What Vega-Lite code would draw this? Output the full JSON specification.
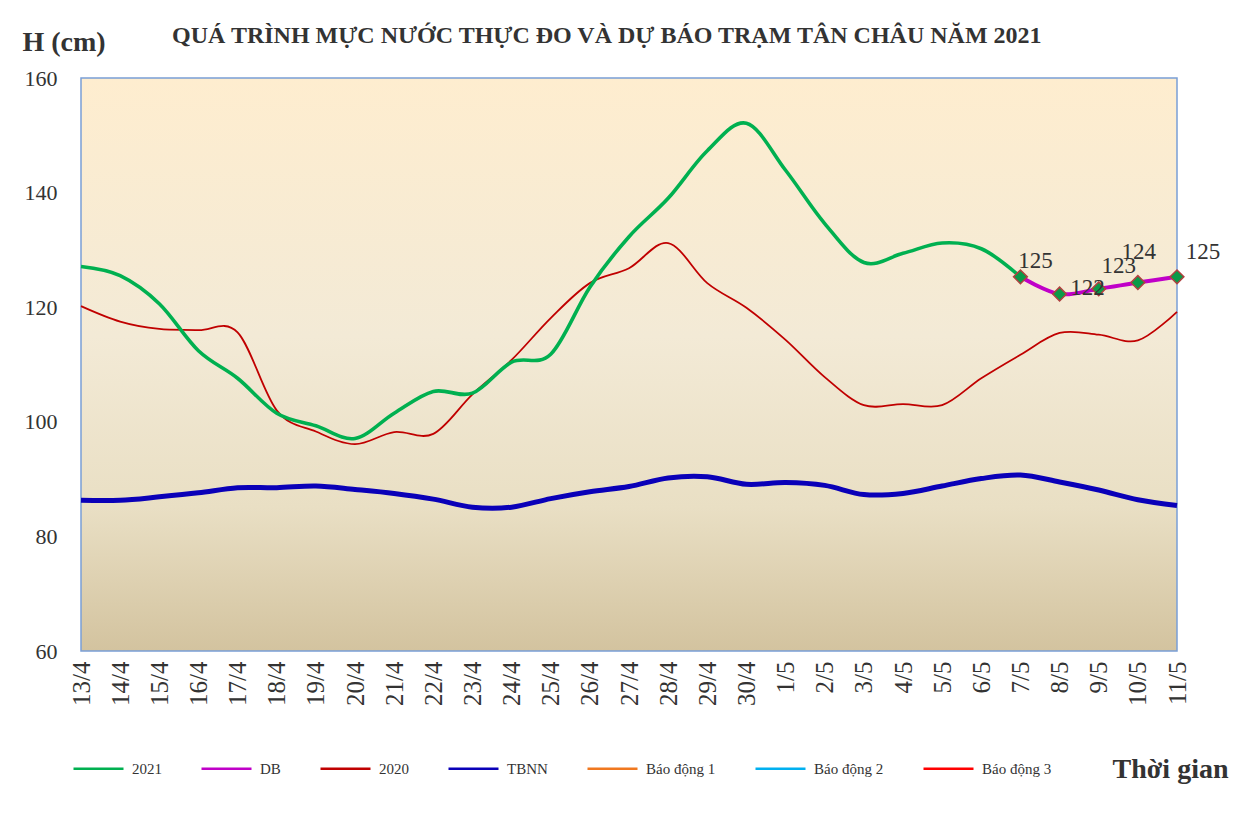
{
  "$schema": "https://vega.github.io/schema/vega-lite/v6.json",
  "width": 1096,
  "height": 573,
  "autosize": {"type": "none"},
  "padding": {"left": 81, "top": 78, "right": 76, "bottom": 170},
  "background": "#ffffff",
  "config": {
    "font": "Liberation Serif",
    "view": {
      "stroke": "#7a9fd6",
      "strokeWidth": 1.5,
      "fill": {"gradient": "linear", "x1": 0, "y1": 0, "x2": 0, "y2": 1,
        "stops": [
          {"offset": 0, "color": "#feedcf"},
          {"offset": 0.45, "color": "#f3ead6"},
          {"offset": 0.75, "color": "#e9dfc4"},
          {"offset": 1, "color": "#d3c39f"}
        ]}
    }
  },
  "title": {
    "text": "QUÁ TRÌNH MỰC NƯỚC THỰC ĐO VÀ DỰ BÁO TRẠM TÂN CHÂU NĂM 2021",
    "anchor": "start",
    "frame": "group",
    "dx": 91,
    "dy": 20,
    "offset": 0,
    "font": "Liberation Serif",
    "fontSize": 24,
    "fontWeight": "bold",
    "color": "#333333"
  },
  "data": {"values": [
    {"d": "13/4", "s": "2021", "v": 127.1}, {"d": "14/4", "s": "2021", "v": 125.5}, {"d": "15/4", "s": "2021", "v": 120.6},
    {"d": "16/4", "s": "2021", "v": 112.4}, {"d": "17/4", "s": "2021", "v": 107.6}, {"d": "18/4", "s": "2021", "v": 101.5},
    {"d": "19/4", "s": "2021", "v": 99.3}, {"d": "20/4", "s": "2021", "v": 97.1}, {"d": "21/4", "s": "2021", "v": 101.5},
    {"d": "22/4", "s": "2021", "v": 105.3}, {"d": "23/4", "s": "2021", "v": 105.0}, {"d": "24/4", "s": "2021", "v": 110.4},
    {"d": "25/4", "s": "2021", "v": 111.8}, {"d": "26/4", "s": "2021", "v": 123.5}, {"d": "27/4", "s": "2021", "v": 132.3},
    {"d": "28/4", "s": "2021", "v": 139.0}, {"d": "29/4", "s": "2021", "v": 147.3}, {"d": "30/4", "s": "2021", "v": 152.1},
    {"d": "1/5", "s": "2021", "v": 143.9}, {"d": "2/5", "s": "2021", "v": 134.6}, {"d": "3/5", "s": "2021", "v": 127.8},
    {"d": "4/5", "s": "2021", "v": 129.4}, {"d": "5/5", "s": "2021", "v": 131.2}, {"d": "6/5", "s": "2021", "v": 130.2},
    {"d": "7/5", "s": "2021", "v": 125.3},
    {"d": "7/5", "s": "DB", "v": 125.3}, {"d": "8/5", "s": "DB", "v": 122.3}, {"d": "9/5", "s": "DB", "v": 123.2},
    {"d": "10/5", "s": "DB", "v": 124.3}, {"d": "11/5", "s": "DB", "v": 125.3},
    {"d": "13/4", "s": "2020", "v": 120.2}, {"d": "14/4", "s": "2020", "v": 117.5}, {"d": "15/4", "s": "2020", "v": 116.2},
    {"d": "16/4", "s": "2020", "v": 116.0}, {"d": "17/4", "s": "2020", "v": 115.6}, {"d": "18/4", "s": "2020", "v": 102.0},
    {"d": "19/4", "s": "2020", "v": 98.3}, {"d": "20/4", "s": "2020", "v": 96.1}, {"d": "21/4", "s": "2020", "v": 98.2},
    {"d": "22/4", "s": "2020", "v": 97.9}, {"d": "23/4", "s": "2020", "v": 104.8}, {"d": "24/4", "s": "2020", "v": 110.8},
    {"d": "25/4", "s": "2020", "v": 118.1}, {"d": "26/4", "s": "2020", "v": 124.2}, {"d": "27/4", "s": "2020", "v": 126.8},
    {"d": "28/4", "s": "2020", "v": 131.2}, {"d": "29/4", "s": "2020", "v": 124.2}, {"d": "30/4", "s": "2020", "v": 119.9},
    {"d": "1/5", "s": "2020", "v": 114.3}, {"d": "2/5", "s": "2020", "v": 107.8}, {"d": "3/5", "s": "2020", "v": 102.9},
    {"d": "4/5", "s": "2020", "v": 103.1}, {"d": "5/5", "s": "2020", "v": 102.9}, {"d": "6/5", "s": "2020", "v": 107.6},
    {"d": "7/5", "s": "2020", "v": 111.7}, {"d": "8/5", "s": "2020", "v": 115.5}, {"d": "9/5", "s": "2020", "v": 115.2},
    {"d": "10/5", "s": "2020", "v": 114.2}, {"d": "11/5", "s": "2020", "v": 119.2},
    {"d": "13/4", "s": "TBNN", "v": 86.3}, {"d": "14/4", "s": "TBNN", "v": 86.3}, {"d": "15/4", "s": "TBNN", "v": 86.9},
    {"d": "16/4", "s": "TBNN", "v": 87.6}, {"d": "17/4", "s": "TBNN", "v": 88.5}, {"d": "18/4", "s": "TBNN", "v": 88.5},
    {"d": "19/4", "s": "TBNN", "v": 88.8}, {"d": "20/4", "s": "TBNN", "v": 88.2}, {"d": "21/4", "s": "TBNN", "v": 87.5},
    {"d": "22/4", "s": "TBNN", "v": 86.5}, {"d": "23/4", "s": "TBNN", "v": 85.1}, {"d": "24/4", "s": "TBNN", "v": 85.1},
    {"d": "25/4", "s": "TBNN", "v": 86.6}, {"d": "26/4", "s": "TBNN", "v": 87.8}, {"d": "27/4", "s": "TBNN", "v": 88.7},
    {"d": "28/4", "s": "TBNN", "v": 90.2}, {"d": "29/4", "s": "TBNN", "v": 90.4}, {"d": "30/4", "s": "TBNN", "v": 89.1},
    {"d": "1/5", "s": "TBNN", "v": 89.4}, {"d": "2/5", "s": "TBNN", "v": 88.9}, {"d": "3/5", "s": "TBNN", "v": 87.3},
    {"d": "4/5", "s": "TBNN", "v": 87.5}, {"d": "5/5", "s": "TBNN", "v": 88.8}, {"d": "6/5", "s": "TBNN", "v": 90.1},
    {"d": "7/5", "s": "TBNN", "v": 90.7}, {"d": "8/5", "s": "TBNN", "v": 89.5}, {"d": "9/5", "s": "TBNN", "v": 88.1},
    {"d": "10/5", "s": "TBNN", "v": 86.4}, {"d": "11/5", "s": "TBNN", "v": 85.4}
  ]},
  "encoding": {
    "x": {
      "field": "d", "type": "ordinal",
      "sort": ["13/4","14/4","15/4","16/4","17/4","18/4","19/4","20/4","21/4","22/4","23/4","24/4","25/4","26/4","27/4","28/4","29/4","30/4","1/5","2/5","3/5","4/5","5/5","6/5","7/5","8/5","9/5","10/5","11/5"],
      "scale": {"type": "point", "padding": 0},
      "axis": {
        "title": "Thời gian",
        "titleFont": "Liberation Serif", "titleFontSize": 28, "titleFontWeight": "bold", "titleColor": "#333333",
        "titleAngle": 0, "titleAlign": "right", "titleBaseline": "alphabetic", "titleX": 1147, "titleY": 126,
        "labelAngle": 270, "labelFont": "Liberation Serif", "labelFontSize": 25, "labelColor": "#333333",
        "labelPadding": 10, "ticks": false, "domain": false, "grid": false, "labelOverlap": false
      }
    },
    "y": {
      "field": "v", "type": "quantitative",
      "scale": {"domain": [60, 160], "nice": false, "zero": false},
      "axis": {
        "title": "H (cm)",
        "titleFont": "Liberation Serif", "titleFontSize": 28, "titleFontWeight": "bold", "titleColor": "#333333",
        "titleAngle": 0, "titleAlign": "left", "titleBaseline": "alphabetic", "titleX": -59, "titleY": -28,
        "values": [60, 80, 100, 120, 140, 160],
        "labelFont": "Liberation Serif", "labelFontSize": 22, "labelColor": "#333333",
        "labelPadding": 24, "ticks": false, "domain": false, "grid": false
      }
    },
    "color": {
      "field": "s", "type": "nominal",
      "scale": {
        "domain": ["2021", "DB", "2020", "TBNN", "Báo động 1", "Báo động 2", "Báo động 3"],
        "range": ["#00b050", "#c000c8", "#c00000", "#0a00b8", "#f07820", "#00b0f0", "#ff0000"]
      },
      "legend": {
        "title": null, "orient": "none", "legendX": -9, "legendY": 664,
        "direction": "horizontal", "columns": 7, "columnPadding": 34,
        "symbolType": "stroke", "symbolSize": 2500, "symbolStrokeWidth": 2.5,
        "labelFont": "Liberation Serif", "labelFontSize": 15, "labelColor": "#333333", "labelOffset": 7
      }
    }
  },
  "layer": [
    {
      "transform": [{"filter": "datum.s == 'TBNN'"}],
      "mark": {"type": "line", "interpolate": "cardinal", "strokeWidth": 5}
    },
    {
      "transform": [{"filter": "datum.s == '2020'"}],
      "mark": {"type": "line", "interpolate": "cardinal", "strokeWidth": 1.8}
    },
    {
      "transform": [{"filter": "datum.s == '2021'"}],
      "mark": {"type": "line", "interpolate": "cardinal", "strokeWidth": 3.6}
    },
    {
      "transform": [{"filter": "datum.s == 'DB'"}],
      "mark": {"type": "line", "interpolate": "cardinal", "strokeWidth": 4}
    },
    {
      "transform": [{"filter": "datum.s == 'DB'"}],
      "mark": {"type": "point", "shape": "diamond", "filled": true, "fill": "#0a9a48", "stroke": "#b04040", "strokeWidth": 1.5, "size": 190, "opacity": 1},
      "encoding": {"color": {"value": "#0a9a48"}}
    },
    {
      "transform": [{"filter": "datum.s == 'DB' && datum.d == '7/5'"}],
      "mark": {"type": "text", "font": "Liberation Serif", "fontSize": 23, "dx": 15, "dy": -16},
      "encoding": {"text": {"field": "v", "type": "quantitative", "format": ".0f"}, "color": {"value": "#333333"}}
    },
    {
      "transform": [{"filter": "datum.s == 'DB' && datum.d == '8/5'"}],
      "mark": {"type": "text", "font": "Liberation Serif", "fontSize": 23, "dx": 28, "dy": -6},
      "encoding": {"text": {"field": "v", "type": "quantitative", "format": ".0f"}, "color": {"value": "#333333"}}
    },
    {
      "transform": [{"filter": "datum.s == 'DB' && datum.d == '9/5'"}],
      "mark": {"type": "text", "font": "Liberation Serif", "fontSize": 23, "dx": 20, "dy": -23},
      "encoding": {"text": {"field": "v", "type": "quantitative", "format": ".0f"}, "color": {"value": "#333333"}}
    },
    {
      "transform": [{"filter": "datum.s == 'DB' && datum.d == '10/5'"}],
      "mark": {"type": "text", "font": "Liberation Serif", "fontSize": 23, "dx": 1, "dy": -31},
      "encoding": {"text": {"field": "v", "type": "quantitative", "format": ".0f"}, "color": {"value": "#333333"}}
    },
    {
      "transform": [{"filter": "datum.s == 'DB' && datum.d == '11/5'"}],
      "mark": {"type": "text", "font": "Liberation Serif", "fontSize": 23, "dx": 26, "dy": -25},
      "encoding": {"text": {"field": "v", "type": "quantitative", "format": ".0f"}, "color": {"value": "#333333"}}
    }
  ]
}
